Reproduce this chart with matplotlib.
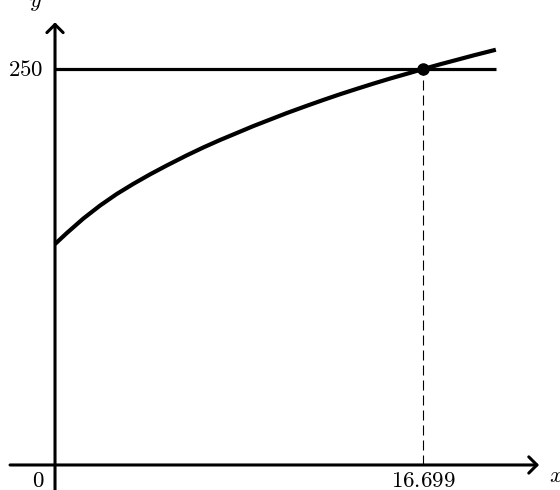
import matplotlib
matplotlib.use('Agg')
import matplotlib.pyplot as plt
from matplotlib.patches import FancyArrowPatch

plt.rcParams['mathtext.fontset'] = 'cm'
plt.rcParams['font.family'] = 'serif'
plt.rcParams['font.serif'] = ['DejaVu Serif']

# curve
curve_x = [0, 0.531, 1.284, 2.042, 2.800, 3.553, 4.311, 5.069, 5.976, 6.730,
           7.487, 8.245, 8.999, 9.756, 10.514, 11.422, 12.175, 12.933, 13.691,
           14.444, 15.202, 15.960, 16.699, 17.471, 18.229, 18.982, 20.0]
curve_y = [139.5, 146.4, 155.6, 163.8, 171.1, 177.5, 183.5, 189.1, 195.5, 200.5,
           205.2, 209.6, 214.0, 218.1, 222.2, 226.8, 230.5, 234.1, 237.5,
           240.8, 244.0, 247.0, 250.0, 253.0, 255.8, 258.6, 262.2]

level = 250
x_cross = 16.699
x_end = 20

fig = plt.figure(figsize=(5.6, 4.9), dpi=100)
ax = fig.add_axes([0, 0, 1, 1])
ax.set_xlim(-2.496, 22.91)
ax.set_ylim(-15.8, 293.6)
ax.axis('off')

# axes with arrows
arr = dict(arrowstyle='->,head_length=0.45,head_width=0.45', mutation_scale=13,
           lw=2.2, color='black', shrinkA=0, shrinkB=0)
ax.add_patch(FancyArrowPatch((-2.04, 0), (21.96, 0), **arr))
ax.add_patch(FancyArrowPatch((0, -16.5), (0, 279.5), **arr))

# level line, dashed drop line, curve and point
ax.plot([0, x_end], [level, level], color='black', lw=2.3, solid_capstyle='butt')
dl, = ax.plot([x_cross, x_cross], [0, level], color='black', lw=0.8)
dl.set_dashes((9, 4.5))
ax.plot(curve_x, curve_y, color='black', lw=3, solid_capstyle='butt',
        solid_joinstyle='round')
ax.plot([x_cross], [level], 'o', color='black', ms=8)

fs = 16.5
ax.text(-0.54, 245.6, '$250$', fontsize=fs, ha='right', va='baseline')
ax.text(-0.75, -13.9, '$0$', fontsize=fs, ha='center', va='baseline')
ax.text(x_cross, -13.9, '$16.699$', fontsize=fs, ha='center', va='baseline')
ax.text(22.41, -10.7, '$x$', fontsize=fs, ha='left', va='baseline')
ax.text(-0.86, 289.4, '$y$', fontsize=fs, ha='center', va='baseline')

fig.savefig('out.png', dpi=100)
